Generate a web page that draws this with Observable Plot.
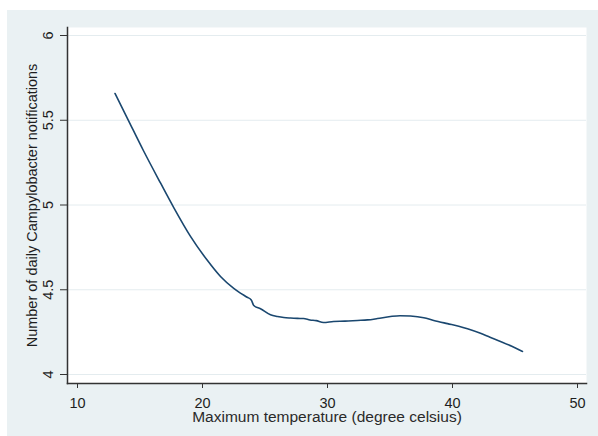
<!DOCTYPE html>
<html>
<head>
<meta charset="utf-8">
<script src="https://cdn.jsdelivr.net/npm/d3@7"></script>
<script src="https://cdn.jsdelivr.net/npm/@observablehq/plot@0.6"></script>
<style>
  html, body { margin: 0; padding: 0; background: #ffffff; }
  #chart { position: absolute; left: 7px; top: 10px; }
  #chart svg { display: block; }
</style>
</head>
<body>
<div id="chart"></div>
<script>
const temperature = [13.0, 14.0, 15.28, 16.64, 17.7, 19.04, 20.37, 21.44, 22.5, 23.0, 23.57, 23.9, 24.1, 24.64, 25.44, 26.0, 26.5, 27.04, 27.6, 28.08, 28.6, 29.1, 29.68, 30.48, 31.4, 32.4, 33.2, 34.0, 35.04, 35.8, 36.64, 37.7, 38.5, 39.6, 40.5, 41.2, 42.24, 43.0, 43.84, 44.7, 45.6];
const notifications = [5.658, 5.51, 5.32, 5.13, 4.985, 4.815, 4.675, 4.578, 4.508, 4.482, 4.456, 4.44, 4.407, 4.388, 4.352, 4.342, 4.336, 4.333, 4.331, 4.33, 4.322, 4.318, 4.307, 4.313, 4.315, 4.319, 4.322, 4.33, 4.342, 4.347, 4.345, 4.335, 4.319, 4.30, 4.285, 4.27, 4.243, 4.22, 4.195, 4.168, 4.136];
const xTicks = [10, 20, 30, 40, 50];
const yTicks = [4, 4.5, 5, 5.5, 6];
const yTickLabels = ["4", "4.5", "5", "5.5", "6"];
const xTitle = "Maximum temperature (degree celsius)";
const yTitle = "Number of daily Campylobacter notifications";

const data = temperature.map((t, i) => ({t, n: notifications[i]}));

const chart = Plot.plot({
  width: 591,
  height: 426,
  marginLeft: 60,
  marginTop: 17,
  marginRight: 12,
  marginBottom: 53,
  style: {
    background: "#eaf1f3",
    fontFamily: "'Liberation Sans', Arial, sans-serif",
    fontSize: "14.5px",
    color: "#1e1e1e"
  },
  x: {domain: [10, 50], insetLeft: 10, insetRight: 9},
  y: {domain: [4, 6], insetTop: 8, insetBottom: 9},
  marks: [
    Plot.frame({fill: "white", stroke: null}),
    Plot.gridY(yTicks, {stroke: "#e4ecef", strokeOpacity: 1, strokeWidth: 1}),
    Plot.line(data, {x: "t", y: "n", stroke: "#1a476f", strokeWidth: 1.6, curve: "monotone-x"}),
    Plot.frame({anchor: "left", stroke: "#333", strokeWidth: 1.5}),
    Plot.frame({anchor: "bottom", stroke: "#333", strokeWidth: 1.5}),
    Plot.axisX(xTicks, {tickSize: 5, tickPadding: 9, stroke: "#333", fontSize: 14.5, label: null}),
    Plot.text([xTitle], {frameAnchor: "bottom", dy: 38, lineAnchor: "bottom", fontSize: 15.5, fill: "#2a2a2a"}),
    Plot.axisY(yTicks, {tickSize: 7, tickPadding: 8, tickRotate: -90, stroke: "#333", fontSize: 14.5, tickFormat: (d, i) => yTickLabels[i], label: yTitle, labelAnchor: "center", labelArrow: "none", labelOffset: 41})
  ]
});
document.getElementById("chart").appendChild(chart);
</script>
</body>
</html>
